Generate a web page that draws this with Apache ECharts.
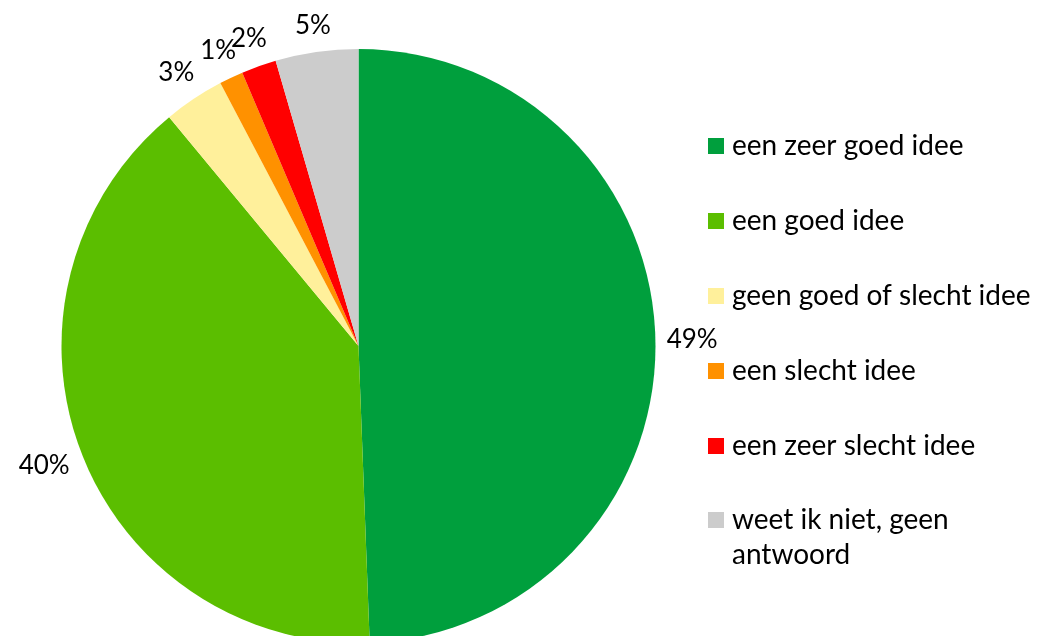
<!DOCTYPE html>
<html>
<head>
<meta charset="utf-8">
<script src="https://cdn.jsdelivr.net/npm/echarts@6/dist/echarts.min.js"></script>
<style>html,body{margin:0;padding:0;background:#fff}#c{width:1038px;height:636px}</style>
</head>
<body>
<div id="c"></div>
<script>
const categories = ['een zeer goed idee', 'een goed idee', 'geen goed of slecht idee', 'een slecht idee', 'een zeer slecht idee', 'weet ik niet, geen antwoord'];
const values = [49.4, 39.6, 3.3, 1.3, 1.9, 4.5];
const colors = ['#009F3D', '#5BBE00', '#FFF09B', '#FF9100', '#FF0000', '#CCCCCC'];

const FONT = 'Lato';
const CX = 358.5, CY = 346, R = 297;
const total = values.reduce((a, b) => a + b, 0);

const chart = echarts.init(document.getElementById('c'), null, {renderer: 'canvas'});
chart.setOption({
  animation: false,
  backgroundColor: '#fff',
  color: colors,
  legend: [{
    data: categories.slice(0, 5),
    orient: 'vertical',
    left: 708,
    top: 131,
    padding: 0,
    itemWidth: 16,
    itemHeight: 16,
    itemGap: 45,
    icon: 'rect',
    selectedMode: false,
    textStyle: {fontFamily: FONT, fontSize: 28, color: '#000', lineHeight: 30, padding: [0, 0, 0, 3]}
  }, {
    data: categories.slice(5),
    orient: 'vertical',
    left: 708,
    top: 467.5,
    padding: 0,
    itemWidth: 16,
    itemHeight: 16,
    icon: 'rect',
    selectedMode: false,
    formatter: n => '\n' + n.replace('geen antwoord', 'geen\nantwoord'),
    textStyle: {fontFamily: FONT, fontSize: 28, color: '#000', lineHeight: 35, padding: [0, 0, 0, 3]}
  }],
  series: [{
    type: 'pie',
    center: [CX, CY],
    radius: R,
    startAngle: 90,
    clockwise: true,
    avoidLabelOverlap: false,
    silent: true,
    data: categories.map((n, i) => ({name: n, value: values[i], itemStyle: {color: colors[i]}})),
    label: {
      show: true,
      position: 'outside',
      fontFamily: FONT,
      fontSize: 26,
      color: '#000',
      formatter: p => Math.round(p.value) + '%'
    },
    labelLine: {show: false, length: 10, length2: 0},
    labelLayout: function (p) {
      const i = p.dataIndex;
      let before = 0;
      for (let k = 0; k < i; k++) before += values[k];
      const mid = (before + values[i] / 2) / total * Math.PI * 2;
      const s = Math.sin(mid), c = Math.cos(mid);
      const w = p.labelRect.width, h = p.labelRect.height;
      const d = 11 + Math.abs(s) * w / 2 + Math.abs(c) * h / 2;
      return {x: CX + (R + d) * s, y: CY - (R + d) * c, align: 'center', verticalAlign: 'middle'};
    }
  }]
});
</script>
</body>
</html>
